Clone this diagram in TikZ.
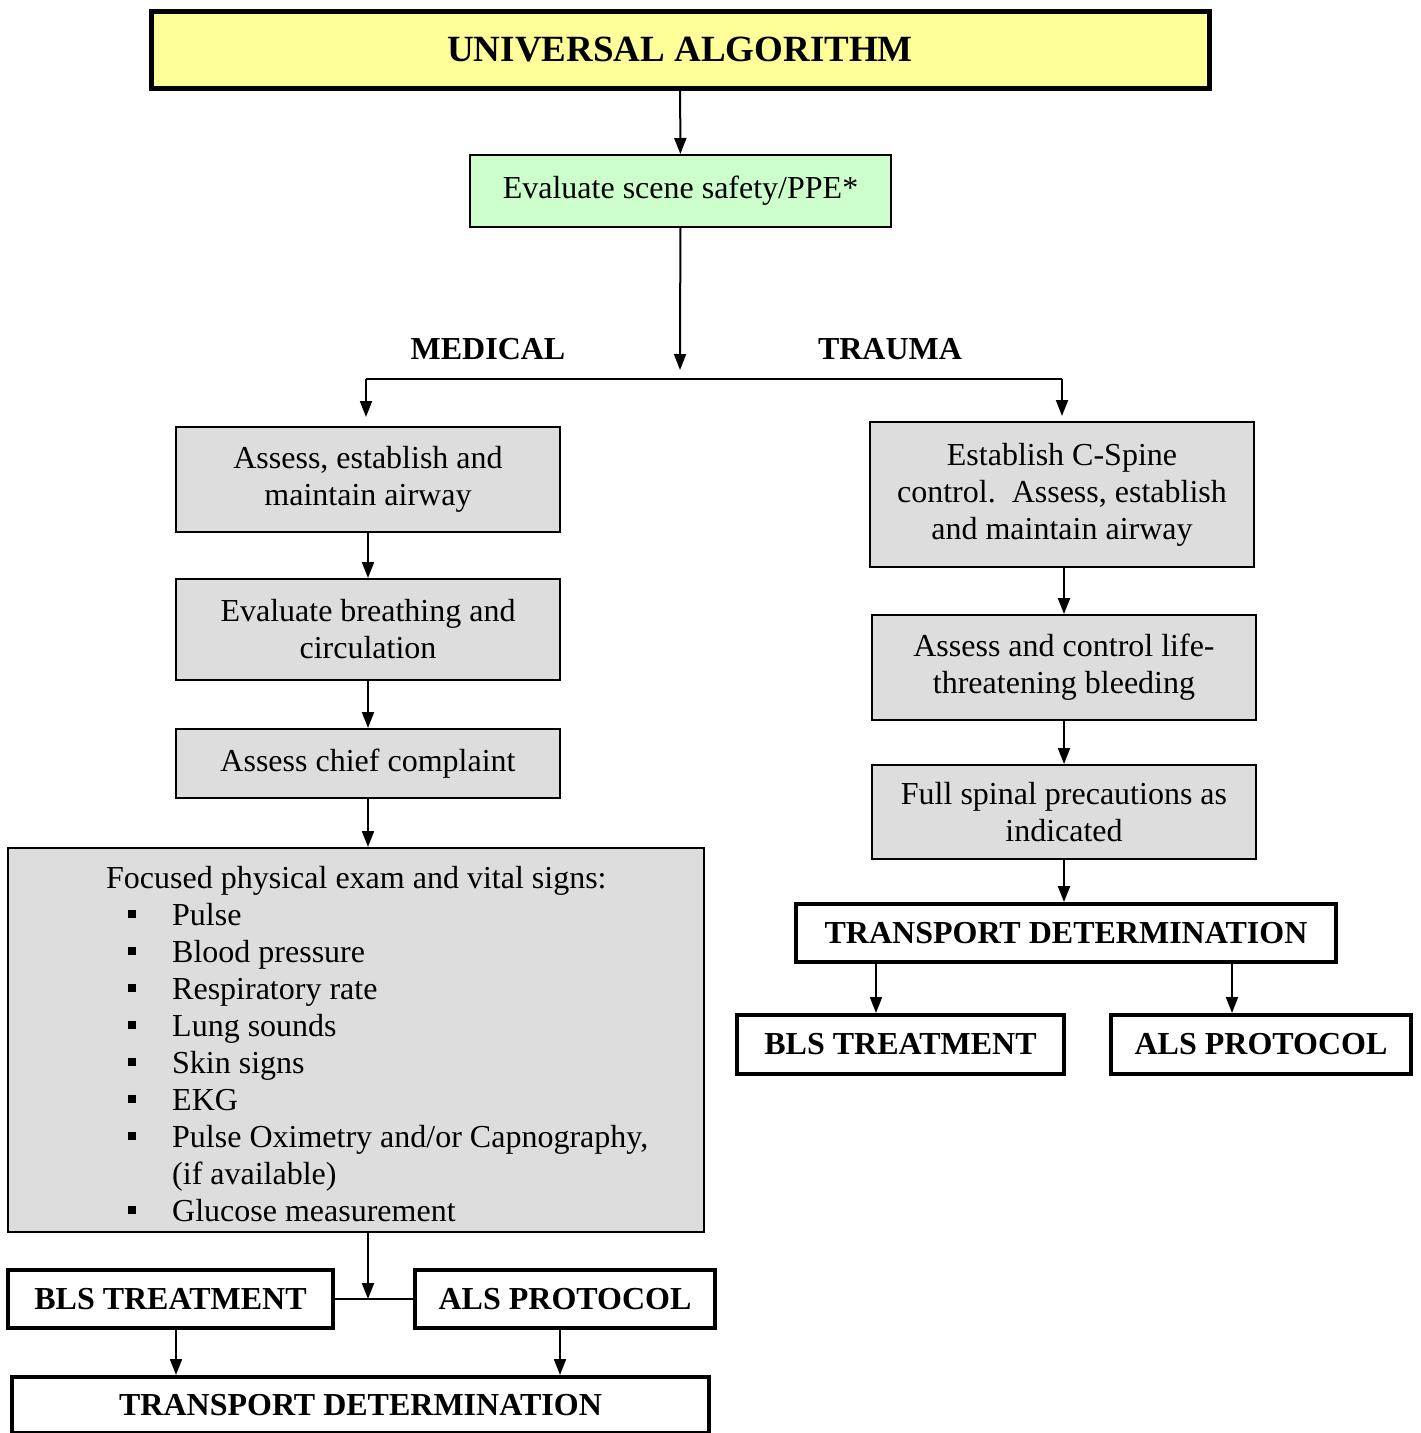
\documentclass[tikz,border=0pt]{standalone}
\usepackage{fontspec}
\setmainfont{Liberation Serif}
\usetikzlibrary{arrows.meta}
\definecolor{titleyellow}{HTML}{FFFF99}
\definecolor{scenegreen}{HTML}{CCFFCC}
\definecolor{stepgray}{HTML}{DDDDDD}
\newcommand{\sqbul}{\rule[7pt]{8pt}{8pt}}

\begin{document}
\begin{tikzpicture}[x=1pt, y=-1pt,
    every node/.style={font=\fontsize{32}{37}\selectfont, align=center, inner sep=0pt},
    graybox/.style={draw, line width=2pt, fill=stepgray},
    endbox/.style={draw, line width=4pt, fill=white, font=\fontsize{32}{37}\selectfont\bfseries},
    arr/.style={line width=2pt, -{Triangle[length=16pt, width=12pt]}}]
    \useasboundingbox (0,0) rectangle (1421,1433);

    % Top of the chart
    \node[draw, line width=5pt, fill=titleyellow, minimum width=1058pt, minimum height=77pt,
          font=\fontsize{37}{42}\selectfont\bfseries] (title) at (680,49.5) {UNIVERSAL ALGORITHM};
    \node[draw, line width=2pt, fill=scenegreen, minimum width=421pt, minimum height=72pt] (scene) at (680.5,191) {Evaluate scene safety/PPE*};
    \coordinate (split) at (680,370);
    \coordinate (forkL) at (366,379);
    \coordinate (forkR) at (1062,379);
    \node[font=\fontsize{32}{37}\selectfont\bfseries] (medical) at (488,349) {MEDICAL};
    \node[font=\fontsize{32}{37}\selectfont\bfseries] (trauma) at (890,349) {TRAUMA};

    % Medical branch
    \node[graybox, minimum width=384pt, minimum height=105pt] (airway) at (368,479.5) {Assess, establish and\\maintain airway};
    \node[graybox, minimum width=384pt, minimum height=101pt] (breath) at (368,629.5) {Evaluate breathing and\\circulation};
    \node[graybox, minimum width=384pt, minimum height=69pt] (chief) at (368,763.5) {Assess chief complaint};
    \node[graybox, minimum width=696pt, minimum height=384pt] (focus) at (356,1040) {};
    \node[anchor=base west, align=left] (vitals) at (106,888) {%
        \begin{tabular}[t]{@{\hspace{22pt}}p{44pt}@{}l@{}}
        \multicolumn{2}{@{}l@{}}{Focused physical exam and vital signs:}\\
        \sqbul & Pulse\\
        \sqbul & Blood pressure\\
        \sqbul & Respiratory rate\\
        \sqbul & Lung sounds\\
        \sqbul & Skin signs\\
        \sqbul & EKG\\
        \sqbul & Pulse Oximetry and/or Capnography,\\
               & (if available)\\
        \sqbul & Glucose measurement
        \end{tabular}};
    \node[endbox, minimum width=325pt, minimum height=58pt] (blsA) at (170.5,1299) {BLS TREATMENT};
    \node[endbox, minimum width=300pt, minimum height=58pt] (alsA) at (565,1299) {ALS PROTOCOL};
    \node[endbox, minimum width=697pt, minimum height=56pt] (tdA) at (360.5,1405) {TRANSPORT DETERMINATION};

    % Trauma branch
    \node[graybox, minimum width=384pt, minimum height=145pt] (cspine) at (1062,494.5) {Establish C-Spine\\control.\ \ Assess, establish\\and maintain airway};
    \node[graybox, minimum width=384pt, minimum height=105pt] (bleed) at (1064,667.5) {Assess and control life-\\threatening bleeding};
    \node[graybox, minimum width=384pt, minimum height=94pt] (spinal) at (1064,812) {Full spinal precautions as\\indicated};
    \node[endbox, minimum width=540pt, minimum height=58pt] (tdB) at (1066,933) {TRANSPORT DETERMINATION};
    \node[endbox, minimum width=327pt, minimum height=59pt] (blsB) at (900.5,1044.5) {BLS TREATMENT};
    \node[endbox, minimum width=300pt, minimum height=59pt] (alsB) at (1261,1044.5) {ALS PROTOCOL};

    % Connectors
    \draw[arr] (title) -- (scene);
    \draw[arr] (scene) -- (split);
    \draw[line width=2pt] (forkL) -- (forkR);
    \draw[arr, shorten >=9pt] (forkL) -- (forkL |- airway.north);
    \draw[arr, shorten >=5pt] (forkR) -- (forkR |- cspine.north);
    \draw[arr] (airway) -- (breath);
    \draw[arr] (breath) -- (chief);
    \draw[arr] (chief) -- (chief |- focus.north);
    \draw[arr] (chief |- focus.south) -- (chief |- blsA.east);
    \draw[line width=2pt] (blsA) -- (alsA);
    \draw[arr] ([xshift=5.5pt]blsA.south) -- ([xshift=5.5pt]blsA.south |- tdA.north);
    \draw[arr] ([xshift=-5pt]alsA.south) -- ([xshift=-5pt]alsA.south |- tdA.north);
    \draw[arr] (cspine.south -| bleed) -- (bleed);
    \draw[arr] (bleed) -- (spinal);
    \draw[arr] (spinal) -- (spinal |- tdB.north);
    \draw[arr] ([xshift=-24.5pt]blsB.north |- tdB.south) -- ([xshift=-24.5pt]blsB.north);
    \draw[arr] ([xshift=-29pt]alsB.north |- tdB.south) -- ([xshift=-29pt]alsB.north);
\end{tikzpicture}
\end{document}
